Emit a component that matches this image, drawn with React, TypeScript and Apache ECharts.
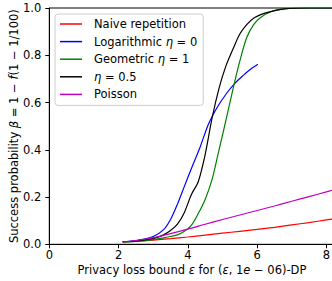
import React, { useEffect, useRef } from "react";
import * as echarts from "echarts";

const FONT = "DejaVu Sans";

const seriesNames = ["Naive repetition", "Logarithmic η = 0", "Geometric η = 1", "η = 0.5", "Poisson"];
const seriesColors = ["#ff0000", "#0000ff", "#008000", "#000000", "#bf00bf"];

const naiveX = [2.12, 2.5, 3, 3.5, 4, 4.5, 5, 5.5, 6, 6.5, 7, 7.5, 8, 8.24];
const naiveY = [0.01, 0.013, 0.018, 0.024, 0.031, 0.039, 0.047, 0.055, 0.063, 0.072, 0.082, 0.092, 0.103, 0.108];

const logX = [2.12, 2.5, 3.0, 3.3, 3.5, 3.7, 3.9, 4.1, 4.35, 4.6, 4.85, 5.1, 5.35, 5.6, 5.8, 6.02];
const logY = [0.011, 0.016, 0.033, 0.062, 0.105, 0.17, 0.245, 0.32, 0.41, 0.51, 0.58, 0.635, 0.68, 0.715, 0.74, 0.762];

const geoX = [2.12, 2.5, 3.0, 3.3, 3.5, 3.7, 3.9, 4.1, 4.3, 4.5, 4.7, 4.9, 5.1, 5.3, 5.5, 5.7, 5.9, 6.1, 6.4, 6.7, 7.0, 7.3, 8.24];
const geoY = [0.01, 0.012, 0.02, 0.027, 0.033, 0.04, 0.055, 0.08, 0.13, 0.19, 0.275, 0.4, 0.525, 0.655, 0.775, 0.875, 0.93, 0.96, 0.984, 0.995, 0.999, 1.0, 1.0];

const halfX = [2.12, 2.5, 3.0, 3.3, 3.5, 3.7, 3.9, 4.1, 4.3, 4.5, 4.7, 4.9, 5.1, 5.3, 5.5, 5.7, 5.9, 6.2, 6.5, 6.8, 7.1, 7.5, 8.24];
const halfY = [0.011, 0.014, 0.025, 0.04, 0.058, 0.085, 0.135, 0.21, 0.265, 0.38, 0.535, 0.66, 0.755, 0.825, 0.89, 0.93, 0.957, 0.977, 0.989, 0.996, 0.999, 1.0, 1.0];

const poissonX = [2.12, 2.5, 3, 3.5, 4, 4.5, 5, 5.5, 6, 6.5, 7, 7.5, 8, 8.24];
const poissonY = [0.01, 0.016, 0.028, 0.045, 0.064, 0.085, 0.105, 0.124, 0.143, 0.162, 0.182, 0.202, 0.222, 0.232];

const xTicks = [0, 2, 4, 6, 8];
const yTicks = [0.0, 0.2, 0.4, 0.6, 0.8, 1.0];

const allX = [naiveX, logX, geoX, halfX, poissonX];
const allY = [naiveY, logY, geoY, halfY, poissonY];

export default function App() {
  const ref = useRef<HTMLDivElement>(null);
  useEffect(() => {
    if (!ref.current) return;
    const chart = echarts.init(ref.current, null, { renderer: "svg" });
    const rich = {
      i: { fontStyle: "italic", fontFamily: FONT, fontSize: 11.5, color: "#000" },
    };
    chart.setOption({
      animation: false,
      backgroundColor: "#ffffff",
      grid: {
        left: 49.3,
        top: 8,
        right: -2.7,
        bottom: 36.7,
        show: true,
        borderColor: "#000",
        borderWidth: 1,
        outerBoundsMode: "none",
      },
      legend: {
        left: 55,
        top: 14,
        orient: "vertical",
        data: seriesNames,
        icon: "rect",
        itemWidth: 22,
        itemHeight: 1.5,
        itemGap: 3.6,
        padding: [3, 6, 4, 5],
        borderColor: "#cccccc",
        borderWidth: 1,
        borderRadius: 3,
        backgroundColor: "rgba(255,255,255,0.8)",
        formatter: (name: string) => name.replace(/η/g, "{i|η}"),
        textStyle: {
          fontFamily: FONT,
          fontSize: 11.5,
          color: "#000",
          lineHeight: 14,
          padding: [0, 0, 0, 7],
          rich,
        },
      },
      xAxis: {
        type: "value",
        min: 0,
        max: 8.24,
        interval: 2,
        splitLine: { show: false },
        axisLine: { show: true, lineStyle: { color: "#000", width: 1 } },
        axisTick: { show: true, inside: false, length: 4, lineStyle: { color: "#000", width: 1 } },
        axisLabel: {
          fontFamily: FONT,
          fontSize: 11.5,
          color: "#000",
          margin: 5,
          showMaxLabel: false,
          formatter: (v: number) => (xTicks.some((t) => Math.abs(t - v) < 1e-9) ? String(v) : ""),
        },
        name: "Privacy loss bound {i|ε} for ({i|ε}, 1{i|e} − 06)-DP",
        nameLocation: "middle",
        nameGap: 20,
        nameMoveOverlap: false,
        nameTextStyle: { fontFamily: FONT, fontSize: 11.5, color: "#000", rich },
      },
      yAxis: {
        type: "value",
        min: 0,
        max: 1,
        interval: 0.2,
        splitLine: { show: false },
        axisLine: { show: true, lineStyle: { color: "#000", width: 1 } },
        axisTick: { show: true, inside: false, length: 4, lineStyle: { color: "#000", width: 1 } },
        axisLabel: {
          fontFamily: FONT,
          fontSize: 11.5,
          color: "#000",
          margin: 8,
          formatter: (v: number) => (yTicks.some((t) => Math.abs(t - v) < 1e-9) ? v.toFixed(1) : ""),
        },
        name: "Success probability {i|β} = 1 − {i|f}(1 − 1/100)",
        nameLocation: "middle",
        nameGap: 29,
        nameMoveOverlap: false,
        nameTextStyle: { fontFamily: FONT, fontSize: 11.5, color: "#000", rich },
      },
      series: seriesNames.map((name, k) => ({
        name,
        type: "line",
        data: allX[k].map((x, j) => [x, allY[k][j]]),
        showSymbol: false,
        symbol: "none",
        smooth: 0.3,
        lineStyle: { color: seriesColors[k], width: 1.2 },
        itemStyle: { color: seriesColors[k] },
        color: seriesColors[k],
      })),
    });
    return () => chart.dispose();
  }, []);
  return (
    <div
      ref={ref}
      style={{ position: "absolute", left: 0, top: 0, width: 332, height: 281 }}
    />
  );
}
